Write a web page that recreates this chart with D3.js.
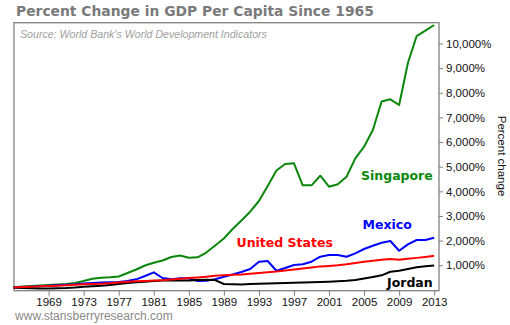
<!DOCTYPE html>
<html><head><meta charset="utf-8">
<script src="https://cdn.jsdelivr.net/npm/d3@7"></script>
<style>body{margin:0;background:#fff}svg{display:block}</style>
</head><body><svg id="c" width="510" height="325"></svg>
<script>
const years = d3.range(1965, 2014);
const singapore = [105,138,158,178,199,219,240,280,361,455,495,511,544,686,828,990,1104,1193,1335,1396,1307,1323,1518,1802,2086,2471,2816,3173,3608,4216,4845,5109,5137,4245,4245,4634,4188,4285,4594,5340,5811,6489,7645,7735,7503,9208,10303,10526,10750];
const mexico = [105,115,130,150,170,190,210,230,260,280,300,308,320,361,430,564,714,483,430,471,471,361,373,430,536,625,726,848,1144,1173,779,889,1010,1039,1144,1347,1416,1416,1347,1485,1660,1794,1915,1984,1591,1850,2025,2025,2118];
const unitedStates = [100,115,130,145,160,170,185,205,225,235,250,275,300,330,350,365,385,390,420,455,480,505,535,570,600,620,630,660,690,720,750,790,830,870,910,955,975,1000,1040,1090,1140,1185,1220,1250,1220,1260,1300,1340,1385];
const jordan = [90,80,70,60,60,70,80,100,130,150,165,200,240,280,310,330,360,380,380,385,380,400,410,400,240,225,215,235,250,260,270,280,290,300,310,320,335,350,370,400,460,523,592,738,779,848,917,958,990];
const xTicks = d3.range(1969, 2014, 4);
const yTicks = d3.range(1000, 10001, 1000);
const series = [
  {name:"Singapore", values:singapore, color:"#0a870a", lx:361, ly:180},
  {name:"Mexico", values:mexico, color:"#0000ff", lx:362.5, ly:229.3},
  {name:"Jordan", values:jordan, color:"#000000", lx:387, ly:287.3},
  {name:"United States", values:unitedStates, color:"#ff0000", lx:236.5, ly:247.3}
];

const svg = d3.select("#c");
const L = 14, R = 439, T = 22.7, B = 290.7;
const x = d3.scaleLinear().domain([1965.05, 2013.55]).range([L, R]);
const y = d3.scaleLinear().domain([-32, 10844]).range([B, T]);

svg.append("text").attr("x", 16).attr("y", 16)
  .attr("font-family", "DejaVu Sans").attr("font-weight", "bold").attr("font-size", 14.5)
  .attr("fill", "#7a7a7a").text("Percent Change in GDP Per Capita Since 1965")
  .each(function(){ const w=this.getComputedTextLength(); d3.select(this).attr("font-size", 14.5*358/w); });

svg.append("text").attr("x", 20).attr("y", 38)
  .attr("font-family", "Liberation Sans").attr("font-style", "italic").attr("font-size", 11.5)
  .attr("fill", "#a0a0a0").text("Source: World Bank\u2019s World Development Indicators")
  .each(function(){ const w=this.getComputedTextLength(); d3.select(this).attr("font-size", 11.5*247/w); });

// frame
svg.append("rect").attr("x", L).attr("y", T).attr("width", R-L).attr("height", B-T)
  .attr("fill", "none").attr("stroke", "#808080").attr("stroke-width", 1.3);

// x axis
const xa = svg.append("g").attr("transform", `translate(0,${B})`)
  .call(d3.axisBottom(x).tickValues(xTicks).tickFormat(d3.format("d")).tickSize(5).tickPadding(2).tickSizeOuter(0));
xa.select(".domain").remove();
xa.selectAll("line").attr("stroke", "#808080");
xa.selectAll("text").attr("font-family", "Liberation Sans").attr("font-size", 11.5).attr("fill", "#111").attr("dy", "0.71em");

// y axis right
const ya = svg.append("g").attr("transform", `translate(${R},0)`)
  .call(d3.axisRight(y).tickValues(yTicks).tickFormat(d => d3.format(",")(d) + "%").tickSize(4).tickPadding(3));
ya.select(".domain").remove();
ya.selectAll("line").attr("stroke", "#808080");
ya.selectAll("text").attr("font-family", "Liberation Sans").attr("font-size", 11.5).attr("fill", "#111");

svg.append("text").attr("transform", "translate(498,156) rotate(90)")
  .attr("text-anchor", "middle").attr("font-family", "Liberation Sans").attr("font-size", 11.5)
  .attr("fill", "#111").text("Percent change");

const line = d3.line().x((d,i) => x(years[i])).y(d => y(d));
series.forEach(s => {
  svg.append("path").datum(s.values).attr("d", line).attr("fill", "none")
    .attr("stroke", s.color).attr("stroke-width", 2).attr("stroke-linejoin", "round");
});
series.forEach(s => {
  svg.append("text").attr("x", s.lx).attr("y", s.ly).attr("font-family", "DejaVu Sans")
    .attr("font-weight", "bold").attr("font-size", 12.5).attr("fill", s.color).text(s.name);
});

svg.append("text").attr("x", 15).attr("y", 320)
  .attr("font-family", "Liberation Sans").attr("font-size", 12)
  .attr("fill", "#8a8a8a").text("www.stansberryresearch.com")
  .each(function(){ const w=this.getComputedTextLength(); d3.select(this).attr("font-size", 12*158/w); });
</script></body></html>
